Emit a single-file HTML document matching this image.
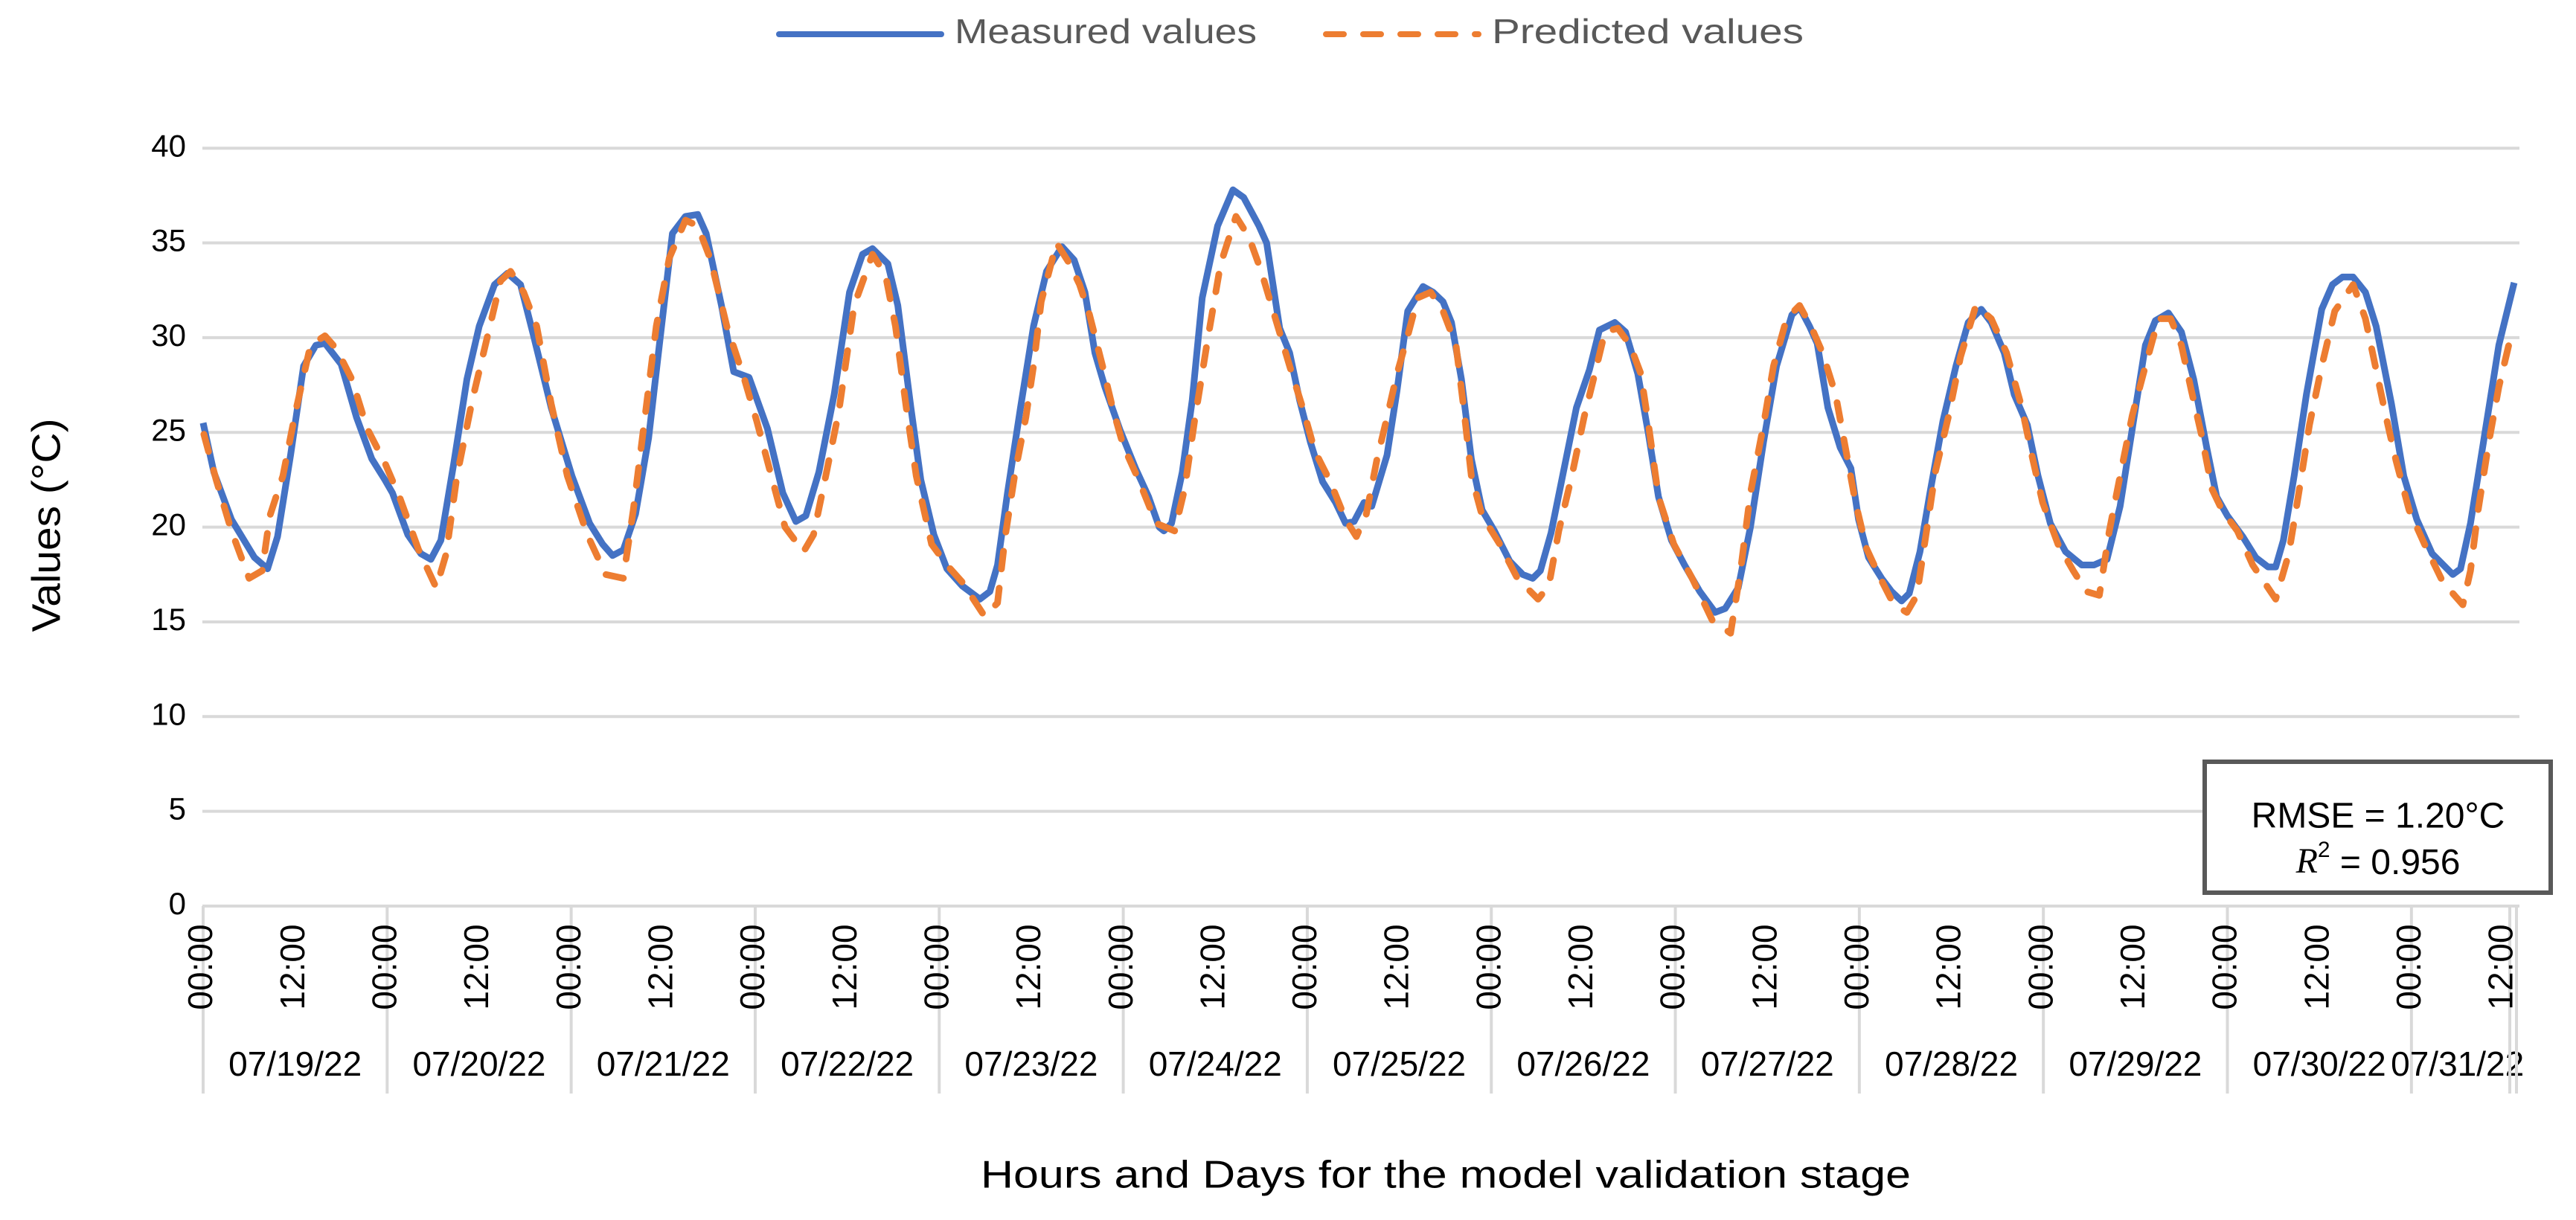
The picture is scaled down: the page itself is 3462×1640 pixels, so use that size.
<!DOCTYPE html>
<html><head><meta charset="utf-8"><style>
html,body{margin:0;padding:0;background:#fff;}
svg{display:block;font-family:"Liberation Sans",sans-serif;}
</style></head><body>
<svg id="chart" width="3462" height="1640" viewBox="0 0 3462 1640">
<g id="grid"></g>
<g id="yticks"></g>
<g id="xticks"></g>
<g id="series"></g>
<text x="66" y="706" transform="rotate(-90 66 706)" text-anchor="middle" dominant-baseline="middle" font-size="54" fill="#000" textLength="287" lengthAdjust="spacingAndGlyphs">Values (°C)</text>
<text x="1943" y="1583" text-anchor="middle" dominant-baseline="middle" font-size="52" fill="#000" textLength="1250" lengthAdjust="spacingAndGlyphs">Hours and Days for the model validation stage</text>
<g>
<g>
<line x1="1047" y1="46" x2="1265" y2="46" stroke="#4472c4" stroke-width="8" stroke-linecap="round"/>
<text x="1283" y="46" dominant-baseline="middle" font-size="46" fill="#595959" textLength="406" lengthAdjust="spacingAndGlyphs">Measured values</text>
</g>
<g>
<line x1="1782" y1="46" x2="1987" y2="46" stroke="#ed7d31" stroke-width="8" stroke-dasharray="24 26" stroke-linecap="round"/>
<text x="2005" y="46" dominant-baseline="middle" font-size="46" fill="#595959" textLength="419" lengthAdjust="spacingAndGlyphs">Predicted values</text>
</g>
</g>
<g>
<rect x="2963" y="1024" width="465" height="176" fill="#fff" stroke="#595959" stroke-width="6"/>
<text x="3196" y="1100" text-anchor="middle" dominant-baseline="middle" font-size="48" fill="#000">RMSE = 1.20°C</text>
<text x="3196" y="1162" text-anchor="middle" dominant-baseline="middle" font-size="48" fill="#000"><tspan font-family="Liberation Serif,serif" font-style="italic">R</tspan><tspan dy="-18" font-size="30">2</tspan><tspan dy="18"> = 0.956</tspan></text>
</g>
</svg>
<script>
const yTicks = [0,5,10,15,20,25,30,35,40];
const dayLabels = ["07/19/22","07/20/22","07/21/22","07/22/22","07/23/22","07/24/22","07/25/22","07/26/22","07/27/22","07/28/22","07/29/22","07/30/22","07/31/22"];
const hourLabels = ["00:00","12:00"];
const hoursM = [0,1.4,3.7,6.7,8.4,9.7,11.4,13.1,14.7,15.9,18,20,22,23.7,24.7,26.7,28.4,29.7,31,32.7,34.4,36,38,39.7,41.4,43.1,45.4,48.1,50.4,52.1,53.4,54.8,56.4,58.1,59.5,61.2,62.9,64.5,65.6,67.6,69.2,71.2,73.6,75.6,77.3,78.6,80.3,82.3,84.3,86,87.3,89.3,90.6,92.3,93.6,95.3,97,99,101.3,102.6,103.6,104.9,106.6,108.3,110,112,113.6,115,116.3,117.6,119.6,121.6,123.3,124.7,125.3,126.3,127.7,129,130.3,132.3,134.3,135.7,137.7,138.7,140.4,141.7,143,144.4,146,147.7,149,150.1,151.4,152.4,154.4,155.7,157.1,159.1,160.4,161.7,162.8,164.1,165.4,166.8,168.4,170.4,172.1,173.4,174.4,175.8,177.5,179.1,180.8,182.1,184.1,185.5,187.1,188.5,189.8,191.5,193.2,195.2,197.2,198.5,200.2,201.8,203.5,205.2,207.2,208.2,209.5,210.5,211.9,213.5,214.9,215.9,217.2,218.9,220.2,221.5,222.5,223.9,225.2,226.9,228.6,230.2,231.9,233.2,234.9,236.2,237.9,239.3,240.9,242.9,245,246.6,248.3,250,251.6,253.3,254.6,256.3,258,259.6,261.3,262.6,264,266,267.7,269.3,270.3,271.3,272.7,274.3,276.3,277.7,279,280.4,282,283.4,285.4,287,288.7,290.7,293.4,294.4,295.7,297.4,299.4,301.4];
const measured = [25.5,22.9,20.4,18.4,17.8,19.5,23.8,28.5,29.6,29.7,28.6,25.8,23.6,22.5,21.8,19.6,18.6,18.3,19.3,23.4,27.8,30.6,32.8,33.4,32.8,30.1,26.3,22.7,20.2,19.1,18.5,18.8,20.7,24.7,29.6,35.5,36.4,36.5,35.5,31.7,28.2,27.9,25.2,21.8,20.3,20.6,22.9,27,32.4,34.4,34.7,33.9,31.7,26.3,22.5,19.6,17.8,16.9,16.2,16.6,18,21.8,26.3,30.6,33.5,34.8,34.1,32.4,29.2,27.4,25.1,23.1,21.6,20,19.8,20.2,22.9,26.7,32.1,35.9,37.8,37.4,35.9,35,30.5,29.2,26.7,24.5,22.4,21.3,20.2,20.3,21.3,21.1,23.8,27.2,31.4,32.7,32.4,31.9,30.8,27.8,23.6,20.9,19.8,18.2,17.5,17.3,17.7,19.7,23.1,26.3,28.3,30.4,30.8,30.3,28.1,24.9,21.6,19.3,18,16.6,15.5,15.7,16.8,20,24.5,28.5,31.2,31.6,30.6,29.7,26.3,24.2,23.1,20.4,18.4,17.3,16.6,16.1,16.5,18.7,21.8,25.6,28.5,30.8,31.5,30.8,29.2,27,25.4,22.7,20.2,18.7,18,18,18.3,21.1,25.2,29.6,30.9,31.3,30.3,27.8,24.2,21.6,20.6,19.5,18.4,17.9,17.9,19.3,22.7,27,31.5,32.8,33.2,33.2,32.4,30.6,26.5,22.7,20.4,18.6,17.5,17.8,20.2,24.5,29.6,32.9];
const hoursP = [0.1,1.7,3.7,6,7.7,8.7,10.4,12,14,15.9,17.4,19.4,21.4,23.7,25.7,28.1,30.4,31.7,33.1,35.1,37.1,38.8,40.1,41.8,43.5,45.4,47.5,50.1,52.5,54.8,56.1,57.5,59.1,60.8,62.9,64.5,66.2,68.3,70.6,72.2,74.3,75.9,78.3,79.6,81.3,82.9,84.9,87.3,89,90.3,91.7,93,95,97,99,101.9,103.6,104.6,105.9,107.3,108.3,109.3,111.3,113,114.3,115.6,117.3,118.6,120,122,124.3,126.7,128,129.3,131,132.7,134.7,136.4,138,139.7,141.7,143.4,145,147,149,150.4,151.7,153.1,154.4,155.7,157.1,158.4,160.1,161.7,163.4,164.4,165.4,166.8,169.1,171.4,174.1,175.5,176.8,178.5,180.1,181.5,182.8,184.5,186.1,187.5,188.5,189.8,191.8,194.2,196.8,199.2,200.5,201.8,203.5,204.8,206.5,208.2,209.8,211.2,212.9,214.5,215.5,216.9,218.5,220.5,222.2,223.5,224.5,225.9,227.6,229.2,231.2,233.2,235.2,237.2,238.6,239.9,241.9,243.9,245.6,247.3,248.6,250,251.6,253.3,255,256.6,258,259.3,260.6,262,263.3,265.3,267.3,270.3,272,273.3,274.7,276.3,278,280.4,282,283.4,284.7,286,287.7,289.7,292.1,294.7,295.7,296.7,298.1,299.4,301.1];
const predicted = [24.9,22.5,19.8,17.3,17.7,20.6,22.7,26,29.6,30.1,29.4,27.8,25.2,23.4,21.5,18.8,16.8,18.6,22.7,26.7,30.1,33,33.5,32.4,30.6,26.5,22.7,19.6,17.5,17.3,20.9,25.4,30.6,34.2,36.2,35.9,34.1,30.6,27.8,25.6,22.4,20,18.7,19.6,22.9,26.1,31.7,34.4,33.3,30.6,26.3,22.7,19.1,18,17.1,15.3,16,19.5,22.9,25.8,28.5,31.9,35,33.9,32.8,31.2,28.5,26.3,24.3,22.5,20.2,19.8,22,25.6,29.9,33.9,36.4,35.3,33.5,31.2,28.5,26.3,24,22.4,20.4,19.5,20.7,23.6,25.8,28.1,30.1,32.1,32.4,31.4,29.6,26.3,22.7,20.6,19.1,17.3,16.2,16.9,19.8,22.7,25.8,28.1,30.3,30.5,29.6,28.1,25.4,21.6,19.1,17.3,15.1,14.4,17.7,21.8,25.4,28.5,31,31.7,30.5,29.2,27,23.5,21.3,18.9,17.5,15.9,15.5,16.4,19.1,22.9,25.8,29,31.7,31,29.2,26.3,23.6,21.3,19.1,17.7,16.6,16.4,19.8,22.7,25.9,28.5,31,31,29.6,27.2,24.9,22,20.9,19.8,18,16.2,18.6,21.8,25.4,28.5,31.4,32.8,31,28.3,25.8,23.5,20.9,19.1,17.1,15.9,17.7,20.9,24.5,27.4,30.3];

const NS = "http://www.w3.org/2000/svg";
const X0 = 273, PXH = 10.305, Y0 = 1218, PXU = 25.47;
const xs = h => X0 + h * PXH;
const ys = v => Y0 - v * PXU;
function mk(tag, attrs, parent){ const e = document.createElementNS(NS, tag); for (const k in attrs) e.setAttribute(k, attrs[k]); parent.appendChild(e); return e; }

const grid = document.getElementById('grid');
const yt = document.getElementById('yticks');
yTicks.forEach(v => {
  const l = mk('line', {x1:272, x2:3386, y1:ys(v), y2:ys(v), stroke:'#d9d9d9', 'stroke-width':4}, grid);
  
  
  const t = mk('text', {x:250, y:ys(v), 'text-anchor':'end', 'dominant-baseline':'middle', 'font-size':42, fill:'#000'}, yt);
  t.textContent = String(v);
  
  
});

const xt = document.getElementById('xticks');
const lastH = 300;
for (let d = 0; d <= 12; d++) {
  const s = mk('line', {x1:xs(d*24), x2:xs(d*24), y1:Y0, y2:1470, stroke:'#d9d9d9', 'stroke-width':4}, xt);
  
  
  const start = d*24, end = Math.min((d+1)*24, lastH);
  const dl = mk('text', {x:(xs(start)+xs(end))/2, y:1434, 'text-anchor':'middle', 'dominant-baseline':'middle', 'font-size':46, fill:'#000'}, xt);
  dl.textContent = dayLabels[d];
  
  
}
[3373, 3382].forEach(x => {
  const s = mk('line', {x1:x, x2:x, y1:Y0, y2:1470, stroke:'#d9d9d9', 'stroke-width':4}, xt);
  
  
});
for (let h = 0; h <= lastH; h += 12) {
  const x = xs(h), y = 1300;
  const t = mk('text', {x:x, y:y, transform:'rotate(-90 '+x+' '+y+')', 'text-anchor':'middle', 'dominant-baseline':'middle', 'font-size':46, fill:'#000'}, xt);
  t.textContent = hourLabels[(h/12)%2];
  
  
}

const ser = document.getElementById('series');
const pathOf = (hs, vs) => hs.map((h,i) => (i?'L':'M') + xs(h).toFixed(1) + ' ' + ys(vs[i]).toFixed(1)).join(' ');
const pm = mk('path', {d:pathOf(hoursM, measured), fill:'none', stroke:'#4472c4', 'stroke-width':9, 'stroke-linejoin':'round'}, ser);


const pp = mk('path', {d:pathOf(hoursP, predicted), fill:'none', stroke:'#ed7d31', 'stroke-width':9, 'stroke-dasharray':'24 26', 'stroke-linecap':'round', 'stroke-linejoin':'round'}, ser);


</script>
</body></html>
